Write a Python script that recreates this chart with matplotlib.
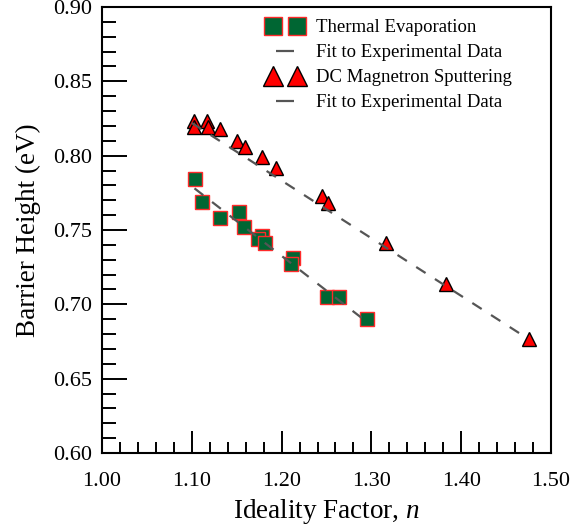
import numpy as np
import matplotlib
matplotlib.use("Agg")
import matplotlib.pyplot as plt
from matplotlib.lines import Line2D
from matplotlib.legend_handler import HandlerLine2D
from matplotlib.ticker import MultipleLocator, FormatStrFormatter

plt.rcParams['font.family'] = ['Liberation Serif', 'DejaVu Serif']
plt.rcParams['mathtext.fontset'] = 'custom'
plt.rcParams['mathtext.it'] = 'Liberation Serif:italic'
plt.rcParams['mathtext.rm'] = 'Liberation Serif'

# thermal evaporation (squares)
te_n = [1.104, 1.111, 1.131, 1.153, 1.158, 1.178, 1.174, 1.182, 1.213, 1.211, 1.250, 1.264, 1.295]
te_phi = [0.784, 0.769, 0.758, 0.762, 0.752, 0.746, 0.744, 0.741, 0.731, 0.727, 0.705, 0.705, 0.690]
te_fit_n = [1.103, 1.291]
te_fit_phi = [0.778, 0.690]

# dc magnetron sputtering (triangles)
dc_n = [1.102, 1.103, 1.117, 1.118, 1.131, 1.150, 1.159, 1.178, 1.194, 1.245, 1.252, 1.316, 1.383, 1.475]
dc_phi = [0.823, 0.819, 0.823, 0.819, 0.818, 0.810, 0.806, 0.799, 0.792, 0.773, 0.768, 0.741, 0.714, 0.677]
dc_fit_n = [1.100, 1.474]
dc_fit_phi = [0.822, 0.677]

fig = plt.figure(figsize=(5.72, 5.26), dpi=100)
ax = fig.add_axes([102/572, 1-453/526, 449/572, 446/526])

fitcol = '#555555'
ax.plot(te_fit_n, te_fit_phi, color=fitcol, lw=1.6, dashes=(5, 5), zorder=3)
ax.plot(dc_fit_n, dc_fit_phi, color=fitcol, lw=1.6, dashes=(5, 5), zorder=3)
ax.plot(te_n, te_phi, 's', ms=10, mfc='#006633', mec='#ff2a2a', mew=1.0, zorder=2)
ax.plot(dc_n, dc_phi, '^', ms=10.5, mfc='#ff0000', mec='black', mew=1.0, zorder=2)

ax.set_xlim(1.0, 1.5)
ax.set_ylim(0.6, 0.9)
ax.xaxis.set_major_locator(MultipleLocator(0.1))
ax.xaxis.set_minor_locator(MultipleLocator(0.02))
ax.yaxis.set_major_locator(MultipleLocator(0.05))
ax.yaxis.set_minor_locator(MultipleLocator(0.01))
ax.xaxis.set_major_formatter(FormatStrFormatter('%.2f'))
ax.yaxis.set_major_formatter(FormatStrFormatter('%.2f'))
ax.tick_params(axis='x', which='major', direction='in', length=16, width=1.4, labelsize=16, pad=14)
ax.tick_params(axis='x', which='minor', direction='in', length=8, width=1.4)
ax.tick_params(axis='y', which='major', direction='in', length=18, width=1.4, labelsize=16, pad=7)
ax.tick_params(axis='y', which='minor', direction='in', length=10, width=1.4)
for s in ax.spines.values():
    s.set_linewidth(1.5)

ax.set_xlabel('Ideality Factor, $n$', fontsize=19.5, labelpad=4)
ax.set_ylabel('Barrier Height (eV)', fontsize=19.5, labelpad=9)

h_te = Line2D([], [], ls='none', marker='s', ms=10, mfc='#006633', mec='#ff2a2a', mew=1.0)
h_dc = Line2D([], [], ls='none', marker='^', ms=10.5, mfc='#ff0000', mec='black', mew=1.0)
h_fit1 = Line2D([], [], ls='none', marker='_', ms=9.5, mec=fitcol, mew=1.6)
h_fit2 = Line2D([], [], ls='none', marker='_', ms=9.5, mec=fitcol, mew=1.6)
leg = ax.legend([h_te, h_fit1, h_dc, h_fit2],
                ['Thermal Evaporation', 'Fit to Experimental Data',
                 'DC Magnetron Sputtering', 'Fit to Experimental Data'],
                handler_map={h_fit1: HandlerLine2D(numpoints=1), h_fit2: HandlerLine2D(numpoints=1)},
                numpoints=2, markerscale=1.35, frameon=False, fontsize=13.5,
                loc='upper left', bbox_to_anchor=(267.6/572, 1-19/526),
                bbox_transform=fig.transFigure, borderpad=0, borderaxespad=0,
                handlelength=1.86, handletextpad=0.72, labelspacing=0.42)

fig.savefig('out.png', dpi=100)
